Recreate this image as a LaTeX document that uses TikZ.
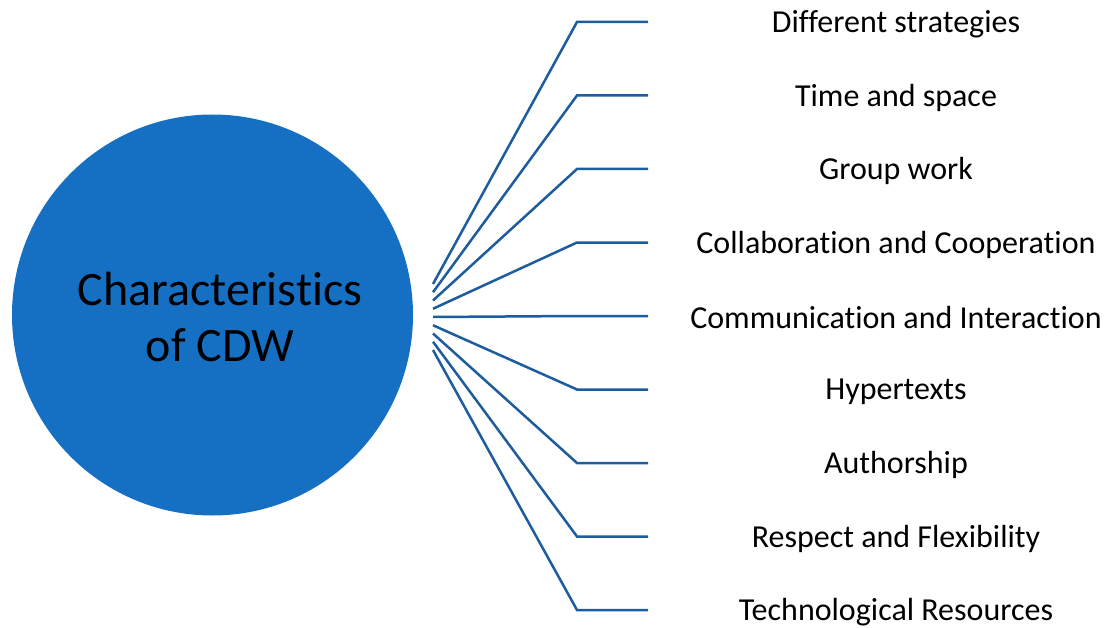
\documentclass[tikz,border=0pt]{standalone}
\usepackage{fontspec}
\setmainfont{Carlito}[Ligatures=NoCommon]
\definecolor{hubblue}{HTML}{1570C4}
\definecolor{spokeblue}{HTML}{1D5C9E}
\begin{document}
\begin{tikzpicture}[x=1pt,y=-1pt,
  hub/.style={circle,fill=hubblue,minimum size=401pt,inner sep=0pt},
  hubtext/.style={align=center,inner sep=0pt,font=\fontsize{48}{56}\selectfont},
  item/.style={font=\fontsize{32}{38}\selectfont,inner sep=0pt},
  spoke/.style={draw=spokeblue,line width=2.5pt}]
\useasboundingbox (0,0) rectangle (1115,628);
\node[hub] (hub) at (212.5,315) {};
\node[hubtext] (hubtext) at (220,317) {Characteristics\\of CDW};
\foreach \i/\t in {0/Different strategies,1/Time and space,2/Group work,
  3/Collaboration and Cooperation,4/Communication and Interaction,5/Hypertexts,
  6/Authorship,7/Respect and Flexibility,8/Technological Resources}{
  \pgfmathsetmacro{\ly}{22+73.5*\i}
  \pgfmathsetmacro{\sy}{284+8.25*\i}
  \coordinate (s\i) at (433,\sy);
  \coordinate (b\i) at (577,\ly);
  \coordinate (e\i) at (648,\ly);
  \node[item] (t\i) at (896,\ly+2) {\t};
  \draw[spoke] (s\i) -- (b\i) -- (e\i);
}
\end{tikzpicture}
\end{document}
